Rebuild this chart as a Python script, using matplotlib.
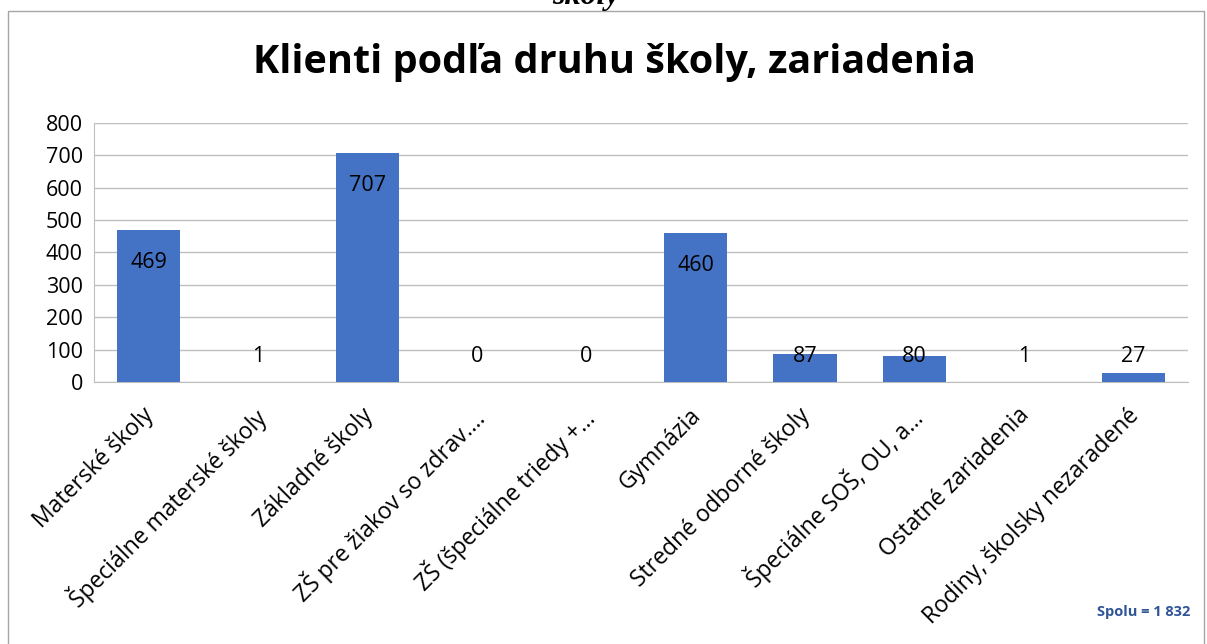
import matplotlib.pyplot as plt
from matplotlib.patches import Rectangle

categories = ["Materské školy", "Špeciálne materské školy", "Základné školy",
              "ZŠ pre žiakov so zdrav.…", "ZŠ (špeciálne triedy +…", "Gymnázia",
              "Stredné odborné školy", "Špeciálne SOŠ, OU, a…", "Ostatné zariadenia",
              "Rodiny, školsky nezaradené"]
values = [469, 1, 707, 0, 0, 460, 87, 80, 1, 27]
yticks = [0, 100, 200, 300, 400, 500, 600, 700, 800]

plt.rcParams['font.family'] = ['Open Sans', 'DejaVu Sans']

fig = plt.figure(figsize=(12.07, 6.44), dpi=100)
W, H = 1207, 644
ax = fig.add_axes([94 / W, 1 - 382 / H, (1188 - 94) / W, (382 - 123) / H])

x = range(len(categories))
ax.bar(x, values, width=0.58, color='#4472C4', zorder=3)
ax.set_xlim(-0.5, len(categories) - 0.5)
ax.set_ylim(0, 800)
ax.set_yticks(yticks)
ax.set_yticklabels([str(t) for t in yticks], fontsize=15.5)
ax.grid(axis='y', color='#BFBFBF', linewidth=1, zorder=0)
for s in ['top', 'right']:
    ax.spines[s].set_visible(False)
for s in ['left', 'bottom']:
    ax.spines[s].set_color('#BFBFBF')
ax.tick_params(axis='y', length=0, pad=8)
ax.tick_params(axis='x', length=0, pad=15.5)
ax.set_xticks([i - 0.06 for i in x])
ax.set_xticklabels(categories, rotation=45, ha='right', va='top',
                   rotation_mode='anchor', fontsize=16.5)

for i, v in enumerate(values):
    if v > 200:
        ax.annotate(str(v), (i, v), xytext=(0, -23), textcoords='offset points',
                    ha='center', va='center', fontsize=15.5, zorder=4)
    else:
        ax.text(i, 80, str(v), ha='center', va='center', fontsize=15.5, zorder=4)

fig.text(614 / W, 1 - 62 / H, "Klienti podľa druhu školy, zariadenia",
         ha='center', va='center', fontsize=28.5, fontweight='bold')

# chart border
fig.patches.append(Rectangle((8 / W, -0.05), (1204 - 8) / W, 1.05 - 11 / H,
                             transform=fig.transFigure, fill=False,
                             edgecolor='#A6A6A6', linewidth=1))

fig.text(586 / W, 1 - 4 / H, "školy", ha='center', va='baseline', fontsize=23,
         fontweight='bold', fontstyle='italic', family='Liberation Serif')

fig.text(1190 / W, 1 - 612 / H, "Spolu = 1 832", ha='right', va='center',
         fontsize=10.5, fontweight='bold', color='#2F5597')

fig.savefig('out.png', dpi=100)
